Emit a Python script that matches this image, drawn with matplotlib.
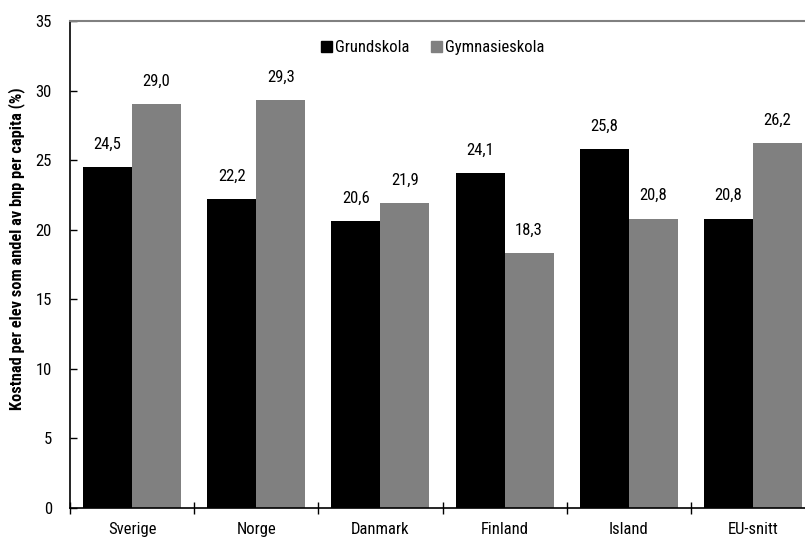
import matplotlib
matplotlib.use('Agg')
import matplotlib.pyplot as plt
from matplotlib import font_manager
from matplotlib.patches import Patch
import numpy as np

# Data
countries = ['Sverige', 'Norge', 'Danmark', 'Finland', 'Island', 'EU-snitt']
grundskola = [24.5, 22.2, 20.6, 24.1, 25.8, 20.8]
gymnasieskola = [29.0, 29.3, 21.9, 18.3, 20.8, 26.2]
y_ticks = [0, 5, 10, 15, 20, 25, 30, 35]

# narrow sans face like the original; use the first one that is installed
installed = {f.name for f in font_manager.fontManager.ttflist}
narrow = ['Roboto Condensed', 'Liberation Sans Narrow', 'Arial Narrow',
          'Archivo Narrow', 'PT Sans Narrow', 'Pragati Narrow',
          'Open Sans Condensed', 'DejaVu Sans Condensed']
family = [n for n in narrow if n in installed][:1] + ['DejaVu Sans']
plt.rcParams['font.family'] = family

fig = plt.figure(figsize=(8.05, 5.38), dpi=100)
# plot area runs slightly past the right edge, as in the reference crop
ax = fig.add_axes([70 / 805, 30 / 538, 745 / 805, 487 / 538])

x = np.arange(len(countries))
w = 0.395
b1 = ax.bar(x - w / 2, grundskola, w, color='black', label='Grundskola')
b2 = ax.bar(x + w / 2, gymnasieskola, w, color='#808080', label='Gymnasieskola')

# value labels above bars, with decimal comma
for bars, vals in ((b1, grundskola), (b2, gymnasieskola)):
    for rect, v in zip(bars, vals):
        ax.annotate(f'{v:.1f}'.replace('.', ','),
                    (rect.get_x() + rect.get_width() / 2, v),
                    xytext=(0, 11), textcoords='offset points',
                    ha='center', va='bottom', fontsize=12)

ax.set_xlim(-0.5, len(countries) - 0.5)
ax.set_ylim(0, 35)
ax.set_yticks(y_ticks)
ax.set_xticks(x)
ax.set_xticklabels(countries)
# category separators
ax.set_xticks(np.arange(len(countries)) - 0.5, minor=True)

ax.tick_params(axis='y', direction='in', length=5, width=1, pad=13, labelsize=12)
ax.tick_params(axis='x', which='major', length=0, pad=10, labelsize=12)
ax.tick_params(axis='x', which='minor', direction='inout', length=8, width=1)

ax.spines['top'].set_color('#808080')
ax.spines['top'].set_linewidth(1.5)
ax.spines['right'].set_visible(False)
ax.spines['left'].set_linewidth(1.2)
ax.spines['bottom'].set_linewidth(1.2)

fig.text(17 / 805, 1 - 249 / 538, 'Kostnad per elev som andel av bnp per capita (%)',
         rotation=90, ha='center', va='center', fontsize=11.8, fontweight='bold')

handles = [Patch(color='black', label='Grundskola'),
           Patch(color='#808080', label='Gymnasieskola')]
ax.legend(handles=handles, loc='center', bbox_to_anchor=(0.487, 0.945),
          ncol=2, frameon=False, fontsize=12, handlelength=0.65,
          handleheight=0.7, handletextpad=0.2, columnspacing=1.3,
          borderpad=0)

fig.savefig('out.png', dpi=100)
